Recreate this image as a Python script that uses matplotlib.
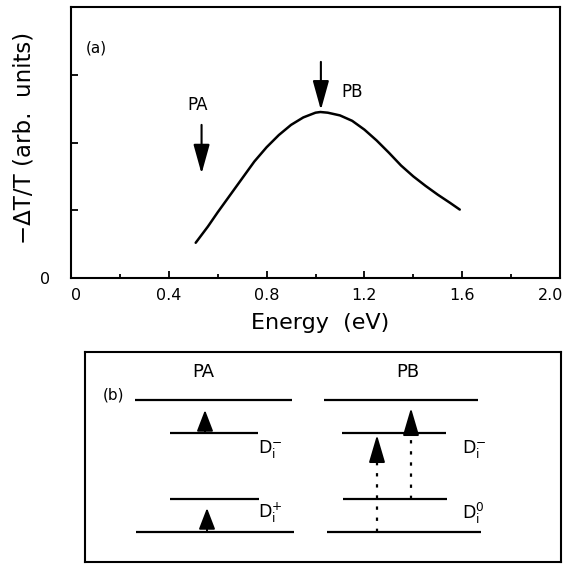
import matplotlib
matplotlib.use("Agg")
import matplotlib.pyplot as plt
import matplotlib.transforms as mtransforms

# ---------------- data: panel (a) ----------------
energy = [0.51, 0.56, 0.60, 0.65, 0.70, 0.75, 0.80, 0.85, 0.90, 0.95, 1.00, 1.02,
          1.05, 1.10, 1.15, 1.20, 1.25, 1.30, 1.35, 1.40, 1.45, 1.50, 1.55, 1.59]
signal = [0.52, 0.76, 0.97, 1.22, 1.47, 1.72, 1.93, 2.11, 2.26, 2.37, 2.44, 2.45,
          2.44, 2.40, 2.32, 2.19, 2.03, 1.85, 1.66, 1.50, 1.36, 1.23, 1.11, 1.01]
xticks = [0, 0.4, 0.8, 1.2, 1.6, 2.0]
xticklabels = ["0", "0.4", "0.8", "1.2", "1.6", "2.0"]
xminor = [0.2, 0.6, 1.0, 1.4, 1.8]
yticks = [0, 1, 2, 3]
yticklabels = ["0", "", "", ""]
peak_labels = ["PA", "PB"]
peak_label_xy = [(0.517, 2.55), (1.15, 2.75)]
peak_arrow_x = [0.534, 1.022]
peak_arrow_top = [2.26, 3.19]
peak_arrow_tip = [1.54, 2.48]

# ---------------- data: panel (b) (schematic levels) ----------------
# each level: (x_start, x_end, y)
levels_PA = [(135, 292, 400), (170, 258, 433), (170, 259, 499), (136, 294, 532)]
levels_PB = [(324, 478, 400), (342, 446, 433), (343, 447, 499), (327, 481, 532)]
state_labels = [r"D$_\mathregular{i}^{\mathregular{-}}$", r"D$_\mathregular{i}^{\mathregular{+}}$",
                r"D$_\mathregular{i}^{\mathregular{-}}$", r"D$_\mathregular{i}^{\mathregular{0}}$"]
state_label_xy = [(258, 449), (258, 513), (462, 449), (462, 513)]
# arrows: (x, y_start, y_tip) and dotted (x, y_start, y_dotted_end, y_solid_start, y_tip)
solid_arrows = [(205, 433, 410), (207, 532, 508)]
dotted_arrows = [(377, 532, 459, 459, 435), (411, 499, 433, 433, 408)]
panel_titles = ["PA", "PB"]
panel_title_xy = [(203, 372), (408, 372)]

plt.rcParams["font.family"] = "DejaVu Sans"
plt.rcParams["mathtext.fontset"] = "dejavusans"

fig = plt.figure(figsize=(5.7, 5.65), dpi=100)

# ---------------- panel (a) ----------------
ax = fig.add_axes([71 / 570, 1 - 278 / 565, (560 - 71) / 570, (278 - 7) / 565])
ax.plot(energy, signal, color="black", lw=1.8, solid_capstyle="round",
        solid_joinstyle="round")
ax.set_xlim(0, 2.0)
ax.set_ylim(0, 4)
ax.set_xticks(xticks)
ax.set_xticklabels(xticklabels)
ax.set_xticks(xminor, minor=True)
ax.set_yticks(yticks)
ax.set_yticklabels(yticklabels)
ax.tick_params(axis="x", which="major", direction="in", length=5, width=1.3, labelsize=11.5, pad=7)
ax.tick_params(axis="x", which="minor", direction="in", length=2.8, width=1.3)
ax.tick_params(axis="y", which="major", direction="in", length=5, width=1.3, labelsize=11.5, pad=15)
for s in ax.spines.values():
    s.set_linewidth(1.5)

# shift first / last x tick labels slightly inward as in the reference
lbls = ax.get_xticklabels()
lbls[0].set_transform(lbls[0].get_transform() +
                      mtransforms.ScaledTranslation(5 / 100, 0, fig.dpi_scale_trans))
lbls[-1].set_transform(lbls[-1].get_transform() +
                       mtransforms.ScaledTranslation(-9 / 100, 0, fig.dpi_scale_trans))

ax.set_xlabel("Energy  (eV)", fontsize=16)
ax.xaxis.set_label_coords((320 - 71) / 489, (278 - 313) / 271)
ax.xaxis.label.set_va("top")
ax.set_ylabel("\u2212\u0394T/T (arb.  units)", fontsize=16.5)
ax.yaxis.set_label_coords((36 - 71) / 489, (278 - 138) / 271)

ax.text(0.105, 3.39, "(a)", fontsize=11, ha="center", va="center")
for lab, (tx, ty) in zip(peak_labels, peak_label_xy):
    ax.text(tx, ty, lab, fontsize=12, ha="center", va="center")
for xa, yt, yp in zip(peak_arrow_x, peak_arrow_top, peak_arrow_tip):
    ax.annotate("", xy=(xa, yp), xytext=(xa, yt),
                arrowprops=dict(arrowstyle="-|>,head_length=1.8,head_width=0.5",
                                mutation_scale=10, lw=1.5, color="black",
                                shrinkA=0, shrinkB=0))

# ---------------- panel (b) ----------------
bx = fig.add_axes([85 / 570, 1 - 562 / 565, (561 - 85) / 570, (562 - 352) / 565])
bx.set_xlim(85, 561)
bx.set_ylim(562, 352)
bx.set_xticks([])
bx.set_yticks([])
for s in bx.spines.values():
    s.set_linewidth(1.5)

for x0, x1, y in levels_PA + levels_PB:
    bx.plot([x0, x1], [y, y], color="black", lw=1.6, solid_capstyle="butt")

for lab, (tx, ty) in zip(state_labels, state_label_xy):
    bx.text(tx, ty, lab, fontsize=12.5, ha="left", va="center")
for lab, (tx, ty) in zip(panel_titles, panel_title_xy):
    bx.text(tx, ty, lab, fontsize=13, ha="center", va="center")
bx.text(113, 395, "(b)", fontsize=11, ha="center", va="center")

head = "-|>,head_length=1.3,head_width=0.5"
for xa, y0, yt in solid_arrows:
    bx.annotate("", xy=(xa, yt), xytext=(xa, y0),
                arrowprops=dict(arrowstyle=head, mutation_scale=10, lw=1.4,
                                color="black", shrinkA=0, shrinkB=0))
for xa, y0, y1, ys, yt in dotted_arrows:
    bx.plot([xa, xa], [y0, y1], color="black", lw=1.6, ls=(0, (1.5, 3.5)))
    hl = 1.7 if ys - yt > 20 else 1.3
    bx.annotate("", xy=(xa, yt), xytext=(xa, ys),
                arrowprops=dict(arrowstyle=f"-|>,head_length={hl},head_width=0.5",
                                mutation_scale=10, lw=1.4,
                                color="black", shrinkA=0, shrinkB=0))

fig.savefig("out.png", dpi=100)
